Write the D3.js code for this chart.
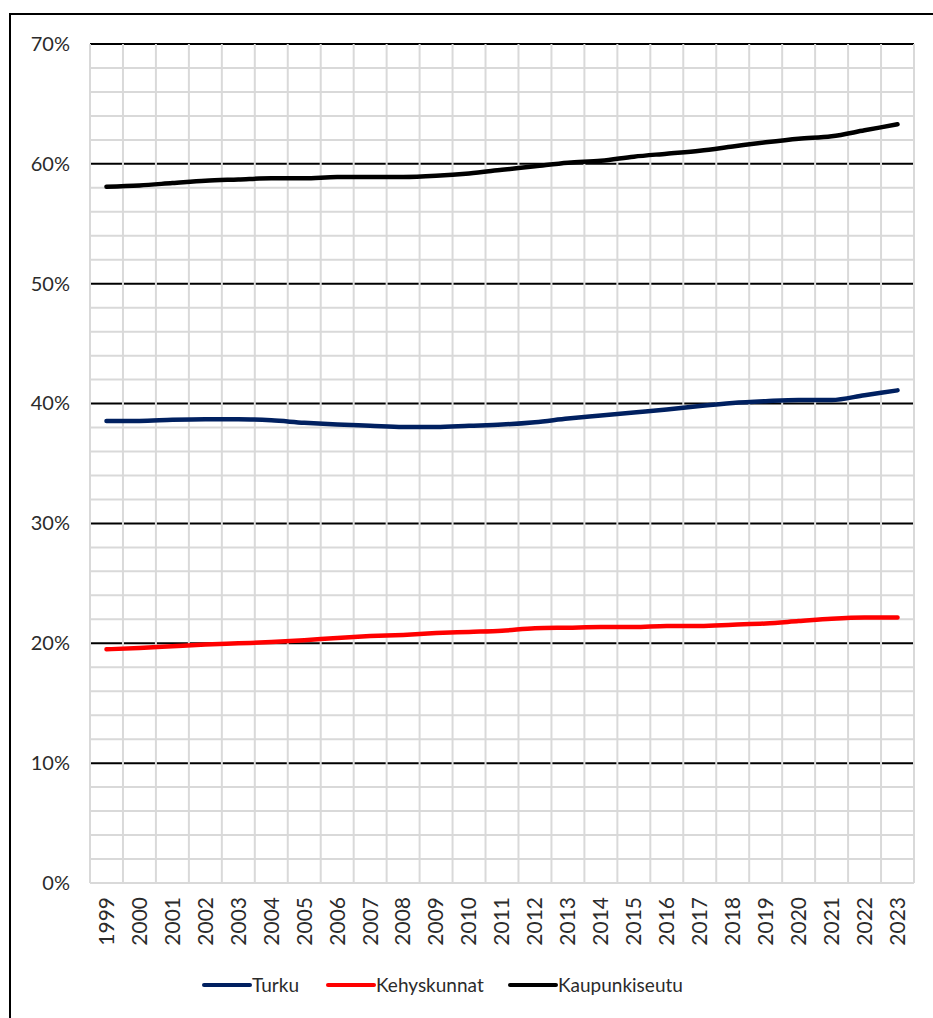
<!DOCTYPE html>
<html><head><meta charset="utf-8">
<script src="https://cdn.jsdelivr.net/npm/d3@7"></script>
<style>body{margin:0;background:#fff}svg{display:block}</style>
</head><body>
<script>
const years = ["1999","2000","2001","2002","2003","2004","2005","2006","2007","2008","2009","2010","2011","2012","2013","2014","2015","2016","2017","2018","2019","2020","2021","2022","2023"];
const turku = [38.55,38.55,38.65,38.7,38.7,38.6,38.4,38.25,38.15,38.05,38.05,38.15,38.25,38.45,38.75,39.0,39.25,39.5,39.8,40.05,40.2,40.3,40.3,40.7,41.1];
const kehyskunnat = [19.5,19.6,19.75,19.9,20.0,20.1,20.25,20.45,20.6,20.7,20.85,20.95,21.05,21.25,21.3,21.35,21.35,21.45,21.45,21.55,21.65,21.85,22.05,22.15,22.15];
const kaupunkiseutu = [58.1,58.2,58.4,58.6,58.7,58.8,58.8,58.9,58.9,58.9,59.0,59.2,59.5,59.8,60.1,60.25,60.6,60.85,61.1,61.45,61.8,62.1,62.3,62.8,63.3];
const seriesNames = ["Turku","Kehyskunnat","Kaupunkiseutu"];
const seriesColors = ["#002060","#ff0000","#000000"];
const yTicks = [0,10,20,30,40,50,60,70];
const yMinor = d3.range(0,71,2);

const W=933,H=1018;
const svg=d3.select("body").append("svg").attr("width",W).attr("height",H);
svg.append("rect").attr("x",10).attr("y",14).attr("width",940).attr("height",1030).attr("fill","#fff").attr("stroke","#000").attr("stroke-width",2);

const L=90,R=914,T=44,B=883;
const x=d3.scaleBand().domain(years).range([L,R]).paddingInner(0).paddingOuter(0);
const y=d3.scaleLinear().domain([0,70]).range([B,T]);
const font="Lato, 'Open Sans', sans-serif";

svg.append("g").selectAll("line").data(yMinor.filter(v=>v%10!==0||v===0)).join("line")
 .attr("x1",L).attr("x2",R).attr("y1",d=>y(d)).attr("y2",d=>y(d))
 .attr("stroke","#d9d9d9").attr("stroke-width",2);
svg.append("g").selectAll("line").data(yTicks.filter(v=>v>0)).join("line")
 .attr("x1",L).attr("x2",R).attr("y1",d=>y(d)).attr("y2",d=>y(d))
 .attr("stroke","#000").attr("stroke-width",2);
const vb=years.map(d=>x(d)).concat([R]);
svg.append("g").selectAll("line").data(vb).join("line")
 .attr("x1",d=>d).attr("x2",d=>d).attr("y1",T).attr("y2",B)
 .attr("stroke","#d9d9d9").attr("stroke-width",2);

const yAxis=d3.axisLeft(y).tickValues(yTicks).tickFormat(d=>d+"%").tickSize(0).tickPadding(20);
const ya=svg.append("g").attr("transform",`translate(${L},0)`).call(yAxis);
ya.select(".domain").remove();
ya.selectAll("text").attr("font-family",font).attr("font-size",20).attr("fill","#2b2b2b");

const xAxis=d3.axisBottom(x).tickSize(0).tickPadding(0);
const xa=svg.append("g").attr("transform",`translate(0,${B})`).call(xAxis);
xa.select(".domain").remove();
xa.selectAll("text").attr("font-family",font).attr("font-size",21).attr("fill","#2b2b2b")
 .attr("transform","rotate(-90)").attr("text-anchor","end").attr("x",-14).attr("y",0).attr("dy","0.35em");

const data=[turku,kehyskunnat,kaupunkiseutu];
const line=d3.line().x((d,i)=>x(years[i])+x.bandwidth()/2).y(d=>y(d)).curve(d3.curveMonotoneX);
svg.append("g").selectAll("path").data(data).join("path")
 .attr("d",line).attr("fill","none").attr("stroke",(d,i)=>seriesColors[i])
 .attr("stroke-width",4.5).attr("stroke-linecap","round").attr("stroke-linejoin","round");

const legX=[204,328,510];
const lg=svg.append("g").selectAll("g").data(seriesNames).join("g").attr("transform",(d,i)=>`translate(${legX[i]},985)`);
lg.append("line").attr("x1",0).attr("x2",46).attr("y1",0).attr("y2",0).attr("stroke",(d,i)=>seriesColors[i]).attr("stroke-width",4).attr("stroke-linecap","round");
lg.append("text").attr("x",48).attr("y",0).attr("dy","0.35em").text(d=>d).attr("font-family",font).attr("font-size",19).attr("fill","#2b2b2b");
</script>
</body></html>
